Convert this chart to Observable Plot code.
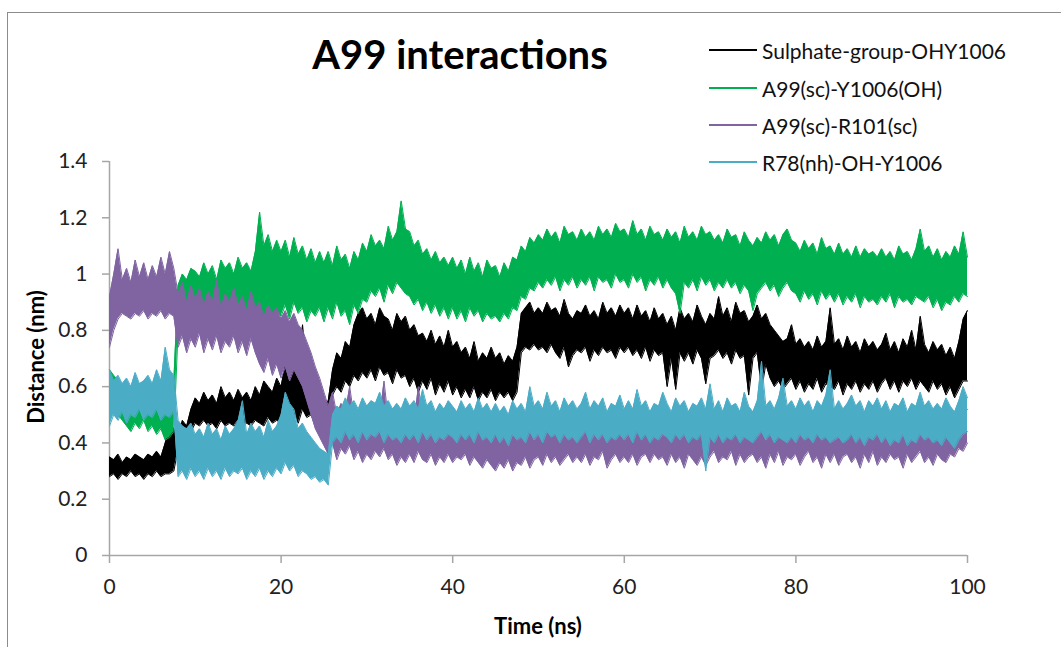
<!DOCTYPE html>
<html>
<head>
<meta charset="utf-8">
<script src="https://cdn.jsdelivr.net/npm/d3@7"></script>
<script src="https://cdn.jsdelivr.net/npm/@observablehq/plot@0.6"></script>
<style>
  html, body { margin: 0; padding: 0; background: #fff; }
  #chart { position: relative; width: 1061px; height: 647px; overflow: hidden; background: #fff; font-family: Lato, "Open Sans", sans-serif; }
  #frame { position: absolute; left: 7px; top: 12px; width: 1100px; height: 700px; border-left: 1.5px solid #8c8c8c; border-top: 1.5px solid #8c8c8c; box-sizing: border-box; }
  #plot { position: absolute; left: 0; top: 0; }
  #title { position: absolute; left: 0; width: 920px; top: 34px; text-align: center; font-weight: 700; font-size: 40px; color: #000; line-height: 1; }
  #ytitle { position: absolute; left: 35px; top: 357px; transform: translate(-50%, -50%) rotate(-90deg); font-weight: 700; font-size: 22px; color: #000; white-space: nowrap; }
  #xtitle { position: absolute; left: 538px; top: 625px; transform: translate(-50%, -50%); font-weight: 700; font-size: 22px; color: #000; white-space: nowrap; }
  #legend { position: absolute; left: 0; top: 0; width: 1061px; height: 200px; }
  .label { position: absolute; left: 762px; white-space: nowrap; font-size: 21px; color: #111; line-height: 1; transform: translateY(-50%); }
  .sample { position: absolute; left: 709px; width: 48px; height: 2px; }
  svg g[aria-label="y-axis tick"], svg g[aria-label="x-axis tick"] { stroke: #a6a6a6; stroke-width: 1.5px; }
</style>
</head>
<body>
<div id="chart">
  <div id="frame"></div>
  <div id="plot"></div>
  <div id="title">A99 interactions</div>
  <div id="ytitle">Distance (nm)</div>
  <div id="xtitle">Time (ns)</div>
  <div id="legend"></div>
</div>
<script>
// Each trajectory is summarised every STEP ns by the lowest and highest
// distance reached in that window, so the dense fluctuations show as a band.
const STEP = 0.5;

const xTicks = [0, 20, 40, 60, 80, 100];
const yTicks = [0, 0.2, 0.4, 0.6, 0.8, 1, 1.2, 1.4];

const seriesNames = ["Sulphate-group-OHY1006", "A99(sc)-Y1006(OH)", "A99(sc)-R101(sc)", "R78(nh)-OH-Y1006"];
const seriesColors = ["#000000", "#00b050", "#8064a2", "#4bacc6"];

// Sulphate-group-OHY1006 (nm)
const sulphateHi = [
  0.35,0.34,0.36,0.33,0.35,0.34,0.36,0.35,0.34,0.36,
  0.35,0.37,0.35,0.40,0.47,0.45,0.42,0.48,0.46,0.52,
  0.56,0.54,0.58,0.55,0.57,0.54,0.60,0.56,0.58,0.55,
  0.59,0.56,0.58,0.55,0.60,0.57,0.62,0.60,0.58,0.63,
  0.60,0.68,0.62,0.66,0.64,0.82,0.66,0.63,0.58,0.56,
  0.53,0.55,0.66,0.72,0.70,0.76,0.74,0.82,0.86,0.88,
  0.84,0.86,0.82,0.88,0.85,0.84,0.80,0.86,0.83,0.85,
  0.80,0.82,0.78,0.79,0.76,0.80,0.75,0.78,0.74,0.80,
  0.74,0.76,0.72,0.74,0.70,0.76,0.69,0.72,0.70,0.74,
  0.70,0.72,0.68,0.71,0.69,0.74,0.86,0.88,0.90,0.86,
  0.88,0.86,0.90,0.87,0.88,0.85,0.91,0.86,0.84,0.87,
  0.86,0.89,0.85,0.87,0.84,0.90,0.86,0.88,0.85,0.89,
  0.86,0.88,0.84,0.89,0.85,0.87,0.83,0.88,0.84,0.86,
  0.82,0.85,0.80,0.88,0.84,0.86,0.83,0.89,0.85,0.82,
  0.86,0.84,0.92,0.85,0.88,0.83,0.90,0.86,0.87,0.83,
  0.85,0.89,0.84,0.86,0.82,0.80,0.78,0.76,0.77,0.82,
  0.75,0.77,0.74,0.76,0.73,0.78,0.74,0.76,0.88,0.75,
  0.77,0.73,0.78,0.74,0.76,0.72,0.77,0.74,0.76,0.73,
  0.75,0.79,0.73,0.76,0.72,0.77,0.74,0.80,0.73,0.85,
  0.75,0.72,0.76,0.73,0.75,0.71,0.74,0.70,0.76,0.84,
  0.87
];
const sulphateLo = [
  0.28,0.29,0.27,0.29,0.28,0.30,0.28,0.29,0.27,0.29,
  0.28,0.30,0.28,0.29,0.29,0.30,0.38,0.40,0.42,0.44,
  0.47,0.46,0.48,0.46,0.47,0.45,0.48,0.46,0.47,0.46,
  0.48,0.46,0.47,0.46,0.48,0.47,0.46,0.49,0.47,0.48,
  0.47,0.50,0.48,0.51,0.47,0.52,0.49,0.50,0.46,0.47,
  0.45,0.47,0.57,0.60,0.58,0.62,0.60,0.64,0.62,0.65,
  0.63,0.66,0.62,0.67,0.64,0.65,0.61,0.66,0.63,0.64,
  0.60,0.63,0.58,0.62,0.59,0.63,0.57,0.61,0.58,0.62,
  0.57,0.60,0.56,0.59,0.56,0.60,0.55,0.58,0.56,0.59,
  0.55,0.58,0.56,0.58,0.55,0.58,0.72,0.74,0.73,0.75,
  0.73,0.74,0.72,0.75,0.72,0.70,0.74,0.67,0.71,0.73,
  0.72,0.74,0.69,0.73,0.71,0.74,0.72,0.73,0.70,0.74,
  0.72,0.74,0.71,0.73,0.70,0.74,0.69,0.73,0.71,0.72,
  0.60,0.70,0.59,0.72,0.69,0.72,0.68,0.73,0.70,0.61,
  0.70,0.71,0.73,0.70,0.72,0.68,0.73,0.70,0.71,0.57,
  0.70,0.72,0.59,0.68,0.63,0.60,0.62,0.59,0.61,0.63,
  0.59,0.62,0.58,0.61,0.59,0.63,0.58,0.61,0.60,0.59,
  0.62,0.57,0.61,0.59,0.62,0.58,0.61,0.59,0.62,0.58,
  0.61,0.63,0.59,0.62,0.58,0.62,0.60,0.63,0.59,0.62,
  0.60,0.58,0.62,0.59,0.61,0.57,0.60,0.56,0.59,0.62,
  0.62
];

// A99(sc)-Y1006(OH) (nm)
const a99Y1006Hi = [
  0.66,0.64,0.62,0.60,0.58,0.57,0.56,0.58,0.57,0.55,
  0.56,0.54,0.55,0.52,0.58,0.62,0.96,1.00,0.98,1.02,
  1.01,0.99,1.04,1.00,1.03,0.98,1.05,1.02,1.04,1.00,
  1.06,1.02,1.04,1.01,1.08,1.22,1.10,1.14,1.08,1.12,
  1.08,1.12,1.06,1.13,1.07,1.10,1.05,1.09,1.04,1.08,
  1.04,1.08,1.03,1.10,1.05,1.07,1.02,1.08,1.05,1.11,
  1.08,1.14,1.10,1.12,1.09,1.17,1.12,1.15,1.26,1.16,
  1.15,1.10,1.12,1.07,1.09,1.05,1.08,1.04,1.06,1.03,
  1.06,1.02,1.05,1.00,1.06,1.01,1.04,0.99,1.05,1.02,
  1.03,0.99,1.04,1.01,1.06,1.05,1.10,1.08,1.13,1.11,
  1.14,1.12,1.16,1.13,1.15,1.11,1.17,1.14,1.15,1.12,
  1.16,1.13,1.15,1.12,1.17,1.14,1.16,1.13,1.18,1.15,
  1.16,1.13,1.19,1.14,1.16,1.12,1.17,1.14,1.15,1.12,
  1.16,1.13,1.15,1.11,1.17,1.13,1.15,1.12,1.17,1.14,
  1.15,1.12,1.14,1.11,1.16,1.13,1.14,1.10,1.15,1.12,
  1.10,1.13,1.11,1.15,1.12,1.14,1.10,1.14,1.16,1.12,
  1.11,1.08,1.12,1.09,1.11,1.07,1.13,1.09,1.10,1.07,
  1.11,1.07,1.09,1.06,1.10,1.06,1.09,1.07,1.08,1.06,
  1.09,1.06,1.08,1.05,1.10,1.07,1.08,1.05,1.09,1.16,
  1.08,1.10,1.06,1.09,1.05,1.08,1.06,1.10,1.07,1.15,
  1.06
];
const a99Y1006Lo = [
  0.56,0.55,0.50,0.48,0.46,0.44,0.47,0.45,0.48,0.44,
  0.46,0.43,0.45,0.41,0.42,0.44,0.80,0.82,0.80,0.84,
  0.82,0.85,0.80,0.86,0.82,0.84,0.80,0.85,0.82,0.86,
  0.84,0.87,0.83,0.86,0.85,0.90,0.84,0.88,0.83,0.87,
  0.85,0.89,0.84,0.90,0.86,0.88,0.83,0.87,0.85,0.88,
  0.83,0.88,0.84,0.90,0.85,0.87,0.82,0.89,0.86,0.91,
  0.90,0.94,0.92,0.95,0.90,0.96,0.93,0.97,0.95,0.93,
  0.92,0.89,0.91,0.87,0.90,0.86,0.89,0.85,0.88,0.84,
  0.88,0.84,0.87,0.83,0.88,0.85,0.87,0.83,0.86,0.84,
  0.85,0.83,0.86,0.84,0.88,0.87,0.92,0.91,0.95,0.94,
  0.97,0.95,0.98,0.96,0.99,0.94,0.98,0.96,0.99,0.95,
  0.98,0.96,0.99,0.94,0.99,0.97,0.98,0.95,1.00,0.97,
  0.98,0.95,1.00,0.97,0.99,0.94,0.98,0.96,0.99,0.95,
  0.98,0.95,0.93,0.86,0.97,0.95,0.98,0.94,0.99,0.96,
  0.98,0.94,0.97,0.95,0.98,0.95,0.97,0.93,0.96,0.94,
  0.87,0.93,0.95,0.97,0.94,0.96,0.92,0.95,0.97,0.94,
  0.93,0.90,0.94,0.91,0.93,0.89,0.94,0.91,0.93,0.90,
  0.93,0.89,0.92,0.90,0.93,0.88,0.92,0.90,0.91,0.89,
  0.92,0.90,0.93,0.88,0.92,0.90,0.91,0.89,0.92,0.91,
  0.90,0.92,0.88,0.91,0.87,0.90,0.89,0.92,0.90,0.93,
  0.92
];

// A99(sc)-R101(sc) (nm)
const a99R101Hi = [
  0.92,1.00,1.09,0.98,1.02,0.97,1.05,0.99,1.04,0.98,
  1.03,0.99,1.06,1.00,1.08,1.02,0.93,0.97,0.90,0.96,
  0.91,0.95,0.89,0.94,0.90,0.98,0.88,0.93,0.90,0.95,
  0.89,0.92,0.87,0.94,0.88,0.90,0.85,0.89,0.86,0.88,
  0.84,0.87,0.83,0.86,0.82,0.80,0.76,0.72,0.67,0.63,
  0.58,0.53,0.58,0.50,0.54,0.51,0.60,0.49,0.52,0.48,
  0.50,0.48,0.52,0.49,0.62,0.48,0.51,0.47,0.50,0.48,
  0.51,0.47,0.60,0.49,0.47,0.50,0.46,0.49,0.47,0.50,
  0.47,0.49,0.47,0.50,0.46,0.48,0.47,0.45,0.48,0.46,
  0.44,0.47,0.45,0.48,0.44,0.47,0.45,0.49,0.45,0.47,
  0.48,0.46,0.49,0.47,0.48,0.46,0.48,0.50,0.47,0.48,
  0.47,0.50,0.46,0.49,0.47,0.51,0.46,0.48,0.50,0.47,
  0.48,0.47,0.50,0.46,0.48,0.49,0.47,0.50,0.47,0.48,
  0.46,0.50,0.47,0.48,0.46,0.49,0.47,0.46,0.49,0.46,
  0.48,0.50,0.47,0.48,0.47,0.51,0.46,0.49,0.47,0.48,
  0.49,0.47,0.48,0.46,0.49,0.47,0.50,0.46,0.48,0.47,
  0.49,0.46,0.48,0.50,0.47,0.48,0.46,0.49,0.47,0.49,
  0.46,0.48,0.50,0.47,0.49,0.46,0.49,0.47,0.50,0.46,
  0.48,0.47,0.49,0.48,0.49,0.46,0.49,0.47,0.48,0.50,
  0.47,0.49,0.46,0.50,0.48,0.47,0.49,0.48,0.51,0.50,
  0.52
];
const a99R101Lo = [
  0.74,0.80,0.84,0.86,0.85,0.84,0.86,0.85,0.87,0.84,
  0.86,0.85,0.87,0.84,0.86,0.85,0.74,0.78,0.72,0.77,
  0.74,0.79,0.72,0.77,0.73,0.78,0.72,0.76,0.74,0.78,
  0.72,0.76,0.71,0.77,0.72,0.68,0.65,0.70,0.64,0.68,
  0.63,0.67,0.62,0.66,0.63,0.60,0.55,0.50,0.45,0.42,
  0.39,0.36,0.40,0.34,0.38,0.36,0.39,0.34,0.37,0.33,
  0.36,0.34,0.37,0.35,0.38,0.34,0.36,0.32,0.35,0.33,
  0.36,0.33,0.37,0.34,0.33,0.36,0.32,0.35,0.33,0.36,
  0.33,0.35,0.34,0.36,0.32,0.35,0.33,0.31,0.34,0.32,
  0.30,0.33,0.31,0.34,0.30,0.33,0.32,0.35,0.31,0.34,
  0.35,0.32,0.36,0.33,0.35,0.32,0.34,0.36,0.33,0.35,
  0.33,0.36,0.32,0.35,0.34,0.37,0.31,0.34,0.36,0.33,
  0.35,0.33,0.36,0.32,0.35,0.36,0.33,0.36,0.34,0.35,
  0.32,0.36,0.33,0.35,0.31,0.36,0.34,0.32,0.35,0.32,
  0.35,0.37,0.33,0.35,0.34,0.37,0.32,0.36,0.33,0.35,
  0.36,0.33,0.35,0.31,0.36,0.33,0.37,0.32,0.35,0.34,
  0.36,0.32,0.35,0.37,0.33,0.35,0.31,0.36,0.33,0.36,
  0.32,0.35,0.36,0.33,0.35,0.31,0.36,0.33,0.37,0.32,
  0.35,0.33,0.36,0.34,0.35,0.31,0.36,0.33,0.35,0.37,
  0.33,0.35,0.32,0.36,0.34,0.33,0.36,0.35,0.38,0.37,
  0.40
];

// R78(nh)-OH-Y1006 (nm)
const r78Hi = [
  0.66,0.62,0.64,0.61,0.63,0.60,0.65,0.61,0.62,0.64,
  0.61,0.66,0.62,0.74,0.66,0.64,0.48,0.46,0.45,0.47,
  0.43,0.45,0.42,0.47,0.43,0.45,0.41,0.46,0.43,0.45,
  0.48,0.55,0.43,0.47,0.44,0.46,0.42,0.48,0.44,0.46,
  0.50,0.58,0.54,0.52,0.45,0.47,0.44,0.42,0.40,0.38,
  0.37,0.36,0.50,0.53,0.52,0.56,0.53,0.55,0.52,0.56,
  0.53,0.55,0.54,0.58,0.53,0.55,0.52,0.54,0.52,0.56,
  0.53,0.55,0.52,0.59,0.53,0.55,0.51,0.54,0.52,0.55,
  0.53,0.51,0.55,0.52,0.54,0.51,0.56,0.52,0.54,0.51,
  0.54,0.51,0.53,0.50,0.55,0.52,0.54,0.51,0.60,0.53,
  0.55,0.52,0.58,0.53,0.55,0.51,0.56,0.53,0.55,0.52,
  0.54,0.58,0.52,0.55,0.53,0.56,0.51,0.54,0.53,0.57,
  0.52,0.55,0.52,0.59,0.53,0.55,0.51,0.54,0.53,0.58,
  0.54,0.51,0.56,0.53,0.55,0.51,0.54,0.53,0.56,0.52,
  0.61,0.52,0.55,0.51,0.56,0.53,0.54,0.51,0.58,0.53,
  0.51,0.55,0.69,0.53,0.55,0.52,0.56,0.63,0.53,0.55,
  0.52,0.56,0.53,0.55,0.51,0.55,0.53,0.57,0.66,0.52,
  0.55,0.52,0.54,0.57,0.53,0.55,0.51,0.55,0.53,0.56,
  0.52,0.55,0.51,0.54,0.53,0.56,0.51,0.54,0.53,0.58,
  0.53,0.55,0.52,0.54,0.52,0.56,0.53,0.51,0.55,0.60,
  0.56
];
const r78Lo = [
  0.46,0.50,0.48,0.51,0.47,0.50,0.49,0.52,0.48,0.50,
  0.49,0.52,0.48,0.50,0.49,0.51,0.28,0.30,0.27,0.31,
  0.28,0.30,0.27,0.31,0.28,0.30,0.27,0.31,0.28,0.30,
  0.29,0.31,0.27,0.30,0.28,0.31,0.27,0.30,0.28,0.31,
  0.29,0.33,0.30,0.32,0.28,0.30,0.29,0.27,0.28,0.26,
  0.27,0.25,0.40,0.42,0.40,0.44,0.41,0.43,0.40,0.44,
  0.41,0.43,0.42,0.44,0.40,0.43,0.41,0.42,0.40,0.43,
  0.41,0.43,0.40,0.44,0.41,0.43,0.40,0.42,0.41,0.43,
  0.42,0.40,0.43,0.41,0.43,0.40,0.44,0.41,0.42,0.40,
  0.43,0.40,0.42,0.39,0.43,0.41,0.42,0.40,0.44,0.41,
  0.43,0.40,0.44,0.42,0.43,0.40,0.43,0.41,0.42,0.40,
  0.42,0.44,0.40,0.43,0.41,0.43,0.40,0.42,0.41,0.43,
  0.41,0.43,0.40,0.44,0.41,0.43,0.40,0.42,0.41,0.43,
  0.42,0.40,0.43,0.41,0.43,0.40,0.42,0.41,0.43,0.30,
  0.42,0.40,0.43,0.40,0.42,0.41,0.43,0.40,0.42,0.41,
  0.40,0.42,0.44,0.41,0.43,0.40,0.42,0.41,0.40,0.42,
  0.40,0.43,0.41,0.42,0.40,0.43,0.41,0.42,0.40,0.41,
  0.42,0.40,0.41,0.43,0.40,0.42,0.39,0.42,0.41,0.43,
  0.40,0.42,0.39,0.41,0.40,0.43,0.39,0.41,0.40,0.43,
  0.41,0.42,0.40,0.41,0.39,0.42,0.40,0.38,0.41,0.43,
  0.44
];

const seriesHi = [sulphateHi, a99Y1006Hi, a99R101Hi, r78Hi];
const seriesLo = [sulphateLo, a99Y1006Lo, a99R101Lo, r78Lo];

// One row per window: time, low and high distance
const bands = seriesHi.map((hi, k) =>
  hi.map((h, i) => ({t: i * STEP, hi: h, lo: seriesLo[k][i]}))
);

// Series are drawn in legend order, so the last one sits on top
const traceMarks = bands.flatMap((rows, k) => [
  Plot.areaY(rows, {x: "t", y1: "lo", y2: "hi", fill: seriesColors[k]}),
  Plot.line(rows, {x: "t", y: "hi", stroke: seriesColors[k], strokeWidth: 1}),
  Plot.line(rows, {x: "t", y: "lo", stroke: seriesColors[k], strokeWidth: 1})
]);

const chart = Plot.plot({
  width: 1061,
  height: 647,
  marginLeft: 109,
  marginRight: 94,
  marginTop: 161,
  marginBottom: 92,
  style: {fontFamily: "Lato, 'Open Sans', sans-serif", fontSize: "21px", color: "#222", background: "transparent", overflow: "visible"},
  x: {domain: [0, 100], ticks: xTicks, tickSize: 8, tickPadding: 16, label: null},
  y: {domain: [0, 1.4], ticks: yTicks, tickSize: 7, tickPadding: 15, label: null, tickFormat: d => String(+d.toFixed(1))},
  marks: [
    Plot.ruleY([0], {stroke: "#a6a6a6", strokeWidth: 1.5}),
    Plot.ruleX([0], {stroke: "#a6a6a6", strokeWidth: 1.5}),
    ...traceMarks
  ]
});
document.getElementById("plot").appendChild(chart);

// Legend: a short line sample and the series name on each row
const legendY = [50, 88, 125, 162];
const legend = document.getElementById("legend");
seriesNames.forEach((name, k) => {
  const sample = document.createElement("div");
  sample.className = "sample";
  sample.style.top = (legendY[k] - 1) + "px";
  sample.style.background = seriesColors[k];
  legend.appendChild(sample);
  const label = document.createElement("div");
  label.className = "label";
  label.style.top = legendY[k] + "px";
  label.textContent = name;
  legend.appendChild(label);
});
</script>
</body>
</html>
